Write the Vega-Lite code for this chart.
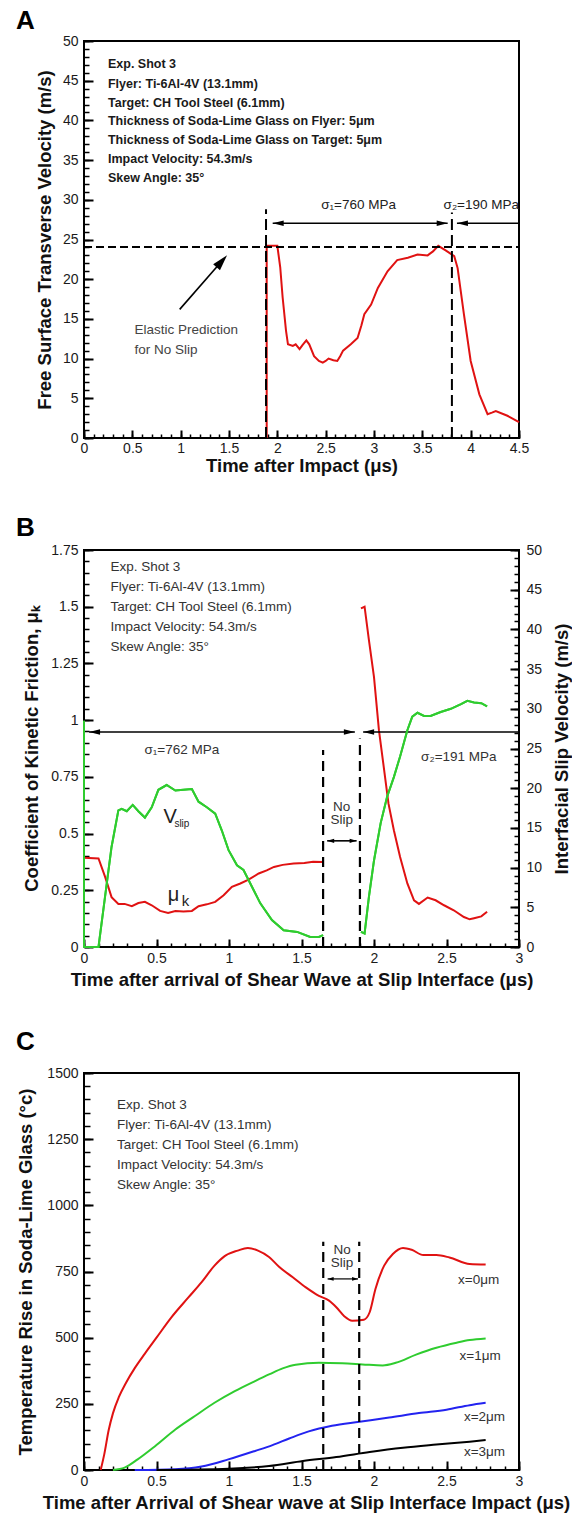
{
  "$schema": "https://vega.github.io/schema/vega-lite/v6.json",
  "padding": {"left": 15, "top": 7, "right": 0, "bottom": 0},
  "spacing": 38,
  "config": {
    "font": "Liberation Sans",
    "view": {"stroke": "#000", "strokeWidth": 2},
    "axis": {"grid": false, "domain": false, "ticks": true, "tickColor": "#000", "tickWidth": 2, "labelFont": "Liberation Sans", "labelFontSize": 14, "labelColor": "#1a1a1a", "labelFlush": false, "labelOverlap": false, "titleFont": "Liberation Sans", "titleFontSize": 18.5, "titleFontWeight": "bold", "titleColor": "#111"},
    "title": {"font": "Liberation Sans", "fontSize": 26, "fontWeight": "bold", "anchor": "start", "frame": "group", "color": "#000"},
    "text": {"font": "Liberation Sans"}
  },
  "datasets": {
    "aCurve": [
      {"x":1.89,"y":0},{"x":1.89,"y":24.2},{"x":2.0,"y":24.2},{"x":2.03,"y":21.5},{"x":2.055,"y":17.7},{"x":2.09,"y":13.5},{"x":2.11,"y":11.8},{"x":2.16,"y":11.6},{"x":2.19,"y":11.8},{"x":2.23,"y":11.2},{"x":2.26,"y":11.7},{"x":2.30,"y":12.3},{"x":2.33,"y":11.8},{"x":2.38,"y":10.3},{"x":2.43,"y":9.7},{"x":2.47,"y":9.5},{"x":2.50,"y":9.7},{"x":2.53,"y":10.0},{"x":2.58,"y":9.8},{"x":2.62,"y":9.7},{"x":2.65,"y":10.3},{"x":2.68,"y":11.0},{"x":2.76,"y":11.8},{"x":2.83,"y":12.6},{"x":2.87,"y":14.2},{"x":2.90,"y":15.6},{"x":2.97,"y":16.8},{"x":3.04,"y":18.9},{"x":3.14,"y":21.0},{"x":3.24,"y":22.4},{"x":3.35,"y":22.7},{"x":3.45,"y":23.1},{"x":3.555,"y":23.0},{"x":3.61,"y":23.5},{"x":3.665,"y":24.2},{"x":3.745,"y":23.6},{"x":3.83,"y":22.9},{"x":3.865,"y":21.4},{"x":3.93,"y":15.6},{"x":4.0,"y":9.7},{"x":4.09,"y":5.5},{"x":4.175,"y":3.0},{"x":4.22,"y":3.2},{"x":4.26,"y":3.4},{"x":4.38,"y":2.8},{"x":4.5,"y":2.0}
    ],
    "aDash": [
      {"x":1.883,"y":0,"x2":1.883,"y2":28.8},{"x":3.806,"y":0,"x2":3.806,"y2":28.4}
    ],
    "aHDash": [{"x":0,"y":24.05,"x2":4.5,"y2":24.05}],
    "aShaft": [
      {"x":1.952,"y":27.04,"x2":3.762,"y2":27.04},{"x":3.858,"y":27.04,"x2":4.5,"y2":27.04},{"x":0.99,"y":16.2,"x2":1.42,"y2":22.2}
    ],
    "aHeadL": [{"x":1.952,"y":27.04},{"x":3.858,"y":27.04}],
    "aHeadR": [{"x":3.762,"y":27.04}],
    "aHeadD": [{"x":1.48,"y":23.03}],
    "aInfo": [
      {"x":0.248,"y":47.06,"t":"Exp. Shot 3"},{"x":0.248,"y":44.62,"t":"Flyer: Ti-6Al-4V (13.1mm)"},{"x":0.248,"y":42.23,"t":"Target: CH Tool Steel (6.1mm)"},{"x":0.248,"y":39.92,"t":"Thickness of Soda-Lime Glass on Flyer: 5μm"},{"x":0.248,"y":37.48,"t":"Thickness of Soda-Lime Glass on Target: 5μm"},{"x":0.248,"y":35.17,"t":"Impact Velocity: 54.3m/s"},{"x":0.248,"y":32.77,"t":"Skew Angle: 35°"}
    ],
    "aSigma": [{"x":2.84,"y":29.4,"t":"σ₁=760 MPa"},{"x":4.11,"y":29.4,"t":"σ₂=190 MPa"}],
    "aNote": [{"x":0.522,"y":13.66,"t":"Elastic Prediction"},{"x":0.522,"y":11.13,"t":"for No Slip"}],
    "bMu": [
      {"x":0,"y":0.393,"seg":1},{"x":0.10,"y":0.39,"seg":1},{"x":0.145,"y":0.31,"seg":1},{"x":0.19,"y":0.22,"seg":1},{"x":0.237,"y":0.19,"seg":1},{"x":0.28,"y":0.19,"seg":1},{"x":0.33,"y":0.18,"seg":1},{"x":0.375,"y":0.194,"seg":1},{"x":0.42,"y":0.199,"seg":1},{"x":0.467,"y":0.184,"seg":1},{"x":0.525,"y":0.159,"seg":1},{"x":0.58,"y":0.15,"seg":1},{"x":0.63,"y":0.159,"seg":1},{"x":0.686,"y":0.156,"seg":1},{"x":0.744,"y":0.159,"seg":1},{"x":0.79,"y":0.18,"seg":1},{"x":0.847,"y":0.188,"seg":1},{"x":0.905,"y":0.199,"seg":1},{"x":0.963,"y":0.228,"seg":1},{"x":1.02,"y":0.265,"seg":1},{"x":1.078,"y":0.28,"seg":1},{"x":1.135,"y":0.297,"seg":1},{"x":1.205,"y":0.324,"seg":1},{"x":1.26,"y":0.338,"seg":1},{"x":1.31,"y":0.353,"seg":1},{"x":1.37,"y":0.362,"seg":1},{"x":1.446,"y":0.368,"seg":1},{"x":1.52,"y":0.37,"seg":1},{"x":1.58,"y":0.376,"seg":1},{"x":1.649,"y":0.375,"seg":1},
      {"x":1.91,"y":1.493,"seg":2},{"x":1.935,"y":1.50,"seg":2},{"x":1.965,"y":1.353,"seg":2},{"x":2.0,"y":1.19,"seg":2},{"x":2.034,"y":0.956,"seg":2},{"x":2.07,"y":0.78,"seg":2},{"x":2.10,"y":0.632,"seg":2},{"x":2.137,"y":0.515,"seg":2},{"x":2.18,"y":0.397,"seg":2},{"x":2.23,"y":0.28,"seg":2},{"x":2.276,"y":0.206,"seg":2},{"x":2.31,"y":0.19,"seg":2},{"x":2.37,"y":0.218,"seg":2},{"x":2.425,"y":0.206,"seg":2},{"x":2.483,"y":0.184,"seg":2},{"x":2.55,"y":0.162,"seg":2},{"x":2.62,"y":0.132,"seg":2},{"x":2.66,"y":0.122,"seg":2},{"x":2.69,"y":0.127,"seg":2},{"x":2.74,"y":0.135,"seg":2},{"x":2.78,"y":0.155,"seg":2}
    ],
    "bV": [
      {"x":0,"y":28.5,"seg":1},{"x":0,"y":0,"seg":1},{"x":0.10,"y":0,"seg":1},{"x":0.145,"y":6.3,"seg":1},{"x":0.19,"y":12.6,"seg":1},{"x":0.237,"y":17.2,"seg":1},{"x":0.26,"y":17.4,"seg":1},{"x":0.295,"y":17.1,"seg":1},{"x":0.336,"y":17.9,"seg":1},{"x":0.375,"y":17.1,"seg":1},{"x":0.42,"y":16.3,"seg":1},{"x":0.467,"y":17.6,"seg":1},{"x":0.513,"y":19.8,"seg":1},{"x":0.57,"y":20.4,"seg":1},{"x":0.63,"y":19.7,"seg":1},{"x":0.686,"y":19.8,"seg":1},{"x":0.744,"y":19.9,"seg":1},{"x":0.79,"y":18.3,"seg":1},{"x":0.847,"y":17.6,"seg":1},{"x":0.905,"y":16.8,"seg":1},{"x":0.95,"y":14.7,"seg":1},{"x":0.997,"y":12.2,"seg":1},{"x":1.055,"y":10.3,"seg":1},{"x":1.10,"y":9.7,"seg":1},{"x":1.147,"y":8.0,"seg":1},{"x":1.216,"y":5.5,"seg":1},{"x":1.296,"y":3.4,"seg":1},{"x":1.377,"y":2.1,"seg":1},{"x":1.47,"y":1.9,"seg":1},{"x":1.56,"y":1.26,"seg":1},{"x":1.62,"y":1.26,"seg":1},{"x":1.649,"y":1.5,"seg":1},
      {"x":1.91,"y":1.9,"seg":2},{"x":1.935,"y":1.7,"seg":2},{"x":1.965,"y":6.3,"seg":2},{"x":2.0,"y":10.9,"seg":2},{"x":2.046,"y":15.6,"seg":2},{"x":2.09,"y":18.9,"seg":2},{"x":2.137,"y":21.4,"seg":2},{"x":2.18,"y":24.0,"seg":2},{"x":2.23,"y":27.3,"seg":2},{"x":2.264,"y":29.0,"seg":2},{"x":2.30,"y":29.5,"seg":2},{"x":2.345,"y":29.1,"seg":2},{"x":2.39,"y":29.1,"seg":2},{"x":2.46,"y":29.6,"seg":2},{"x":2.53,"y":30.0,"seg":2},{"x":2.60,"y":30.6,"seg":2},{"x":2.644,"y":31.0,"seg":2},{"x":2.69,"y":30.8,"seg":2},{"x":2.74,"y":30.7,"seg":2},{"x":2.78,"y":30.3,"seg":2}
    ],
    "bDash": [{"x":1.649,"y":0,"x2":1.649,"y2":0.868},{"x":1.903,"y":0,"x2":1.903,"y2":0.919}],
    "bShaft": [{"x":0.035,"y":0.948,"x2":1.868,"y2":0.948},{"x":1.925,"y":0.948,"x2":3,"y2":0.948},{"x":1.677,"y":0.468,"x2":1.88,"y2":0.468}],
    "bHeadL": [{"x":0.035,"y":0.948},{"x":1.925,"y":0.948}],
    "bHeadR": [{"x":1.868,"y":0.948}],
    "bHeadLs": [{"x":1.677,"y":0.468}],
    "bHeadRs": [{"x":1.88,"y":0.468}],
    "bInfo": [
      {"x":0.183,"y":1.674,"t":"Exp. Shot 3"},{"x":0.183,"y":1.585,"t":"Flyer: Ti-6Al-4V (13.1mm)"},{"x":0.183,"y":1.497,"t":"Target: CH Tool Steel (6.1mm)"},{"x":0.183,"y":1.409,"t":"Impact Velocity: 54.3m/s"},{"x":0.183,"y":1.321,"t":"Skew Angle: 35°"}
    ],
    "bSigma": [{"x":0.675,"y":0.868,"t":"σ₁=762 MPa"},{"x":2.585,"y":0.838,"t":"σ₂=191 MPa"},{"x":1.777,"y":0.618,"t":"No"},{"x":1.777,"y":0.559,"t":"Slip"}],
    "bBig": [{"x":0.594,"y":0.573,"t":"V"},{"x":0.617,"y":0.228,"t":"μ"}],
    "bSlip": [{"x":0.675,"y":0.544,"t":"slip"}],
    "bK": [{"x":0.70,"y":0.203,"t":"k"}],
    "cCurves": [
      {"s":"x=0μm","x":0.115,"y":0},{"s":"x=0μm","x":0.14,"y":60},{"s":"x=0μm","x":0.17,"y":150},{"s":"x=0μm","x":0.20,"y":215},{"s":"x=0μm","x":0.24,"y":275},{"s":"x=0μm","x":0.29,"y":330},{"s":"x=0μm","x":0.35,"y":385},{"s":"x=0μm","x":0.42,"y":440},{"s":"x=0μm","x":0.50,"y":500},{"s":"x=0μm","x":0.60,"y":575},{"s":"x=0μm","x":0.72,"y":652},{"s":"x=0μm","x":0.81,"y":709},{"s":"x=0μm","x":0.90,"y":772},{"s":"x=0μm","x":0.97,"y":808},{"s":"x=0μm","x":1.06,"y":829},{"s":"x=0μm","x":1.13,"y":839},{"s":"x=0μm","x":1.20,"y":829},{"s":"x=0μm","x":1.276,"y":805},{"s":"x=0μm","x":1.345,"y":768},{"s":"x=0μm","x":1.44,"y":728},{"s":"x=0μm","x":1.53,"y":690},{"s":"x=0μm","x":1.62,"y":658},{"s":"x=0μm","x":1.69,"y":640},{"s":"x=0μm","x":1.74,"y":615},{"s":"x=0μm","x":1.795,"y":581},{"s":"x=0μm","x":1.85,"y":564},{"s":"x=0μm","x":1.93,"y":568},{"s":"x=0μm","x":1.97,"y":596},{"s":"x=0μm","x":2.01,"y":684},{"s":"x=0μm","x":2.07,"y":772},{"s":"x=0μm","x":2.13,"y":816},{"s":"x=0μm","x":2.20,"y":839},{"s":"x=0μm","x":2.26,"y":832},{"s":"x=0μm","x":2.34,"y":812},{"s":"x=0μm","x":2.43,"y":812},{"s":"x=0μm","x":2.52,"y":803},{"s":"x=0μm","x":2.66,"y":778},{"s":"x=0μm","x":2.77,"y":776},
      {"s":"x=1μm","x":0.20,"y":0},{"s":"x=1μm","x":0.28,"y":9},{"s":"x=1μm","x":0.37,"y":40},{"s":"x=1μm","x":0.49,"y":90},{"s":"x=1μm","x":0.63,"y":153},{"s":"x=1μm","x":0.765,"y":204},{"s":"x=1μm","x":0.90,"y":254},{"s":"x=1μm","x":1.04,"y":298},{"s":"x=1μm","x":1.18,"y":336},{"s":"x=1μm","x":1.28,"y":362},{"s":"x=1μm","x":1.37,"y":384},{"s":"x=1μm","x":1.46,"y":398},{"s":"x=1μm","x":1.62,"y":405},{"s":"x=1μm","x":1.78,"y":403},{"s":"x=1μm","x":1.92,"y":399},{"s":"x=1μm","x":2.06,"y":395},{"s":"x=1μm","x":2.15,"y":405},{"s":"x=1μm","x":2.29,"y":436},{"s":"x=1μm","x":2.43,"y":462},{"s":"x=1μm","x":2.57,"y":481},{"s":"x=1μm","x":2.66,"y":491},{"s":"x=1μm","x":2.77,"y":497},
      {"s":"x=2μm","x":0.35,"y":0},{"s":"x=2μm","x":0.63,"y":3},{"s":"x=2μm","x":0.81,"y":13},{"s":"x=2μm","x":0.995,"y":40},{"s":"x=2μm","x":1.18,"y":72},{"s":"x=2μm","x":1.30,"y":94},{"s":"x=2μm","x":1.415,"y":119},{"s":"x=2μm","x":1.55,"y":146},{"s":"x=2μm","x":1.71,"y":167},{"s":"x=2μm","x":1.90,"y":182},{"s":"x=2μm","x":2.105,"y":198},{"s":"x=2μm","x":2.31,"y":215},{"s":"x=2μm","x":2.50,"y":228},{"s":"x=2μm","x":2.66,"y":245},{"s":"x=2μm","x":2.77,"y":254},
      {"s":"x=3μm","x":0.5,"y":0},{"s":"x=3μm","x":1.0,"y":5},{"s":"x=3μm","x":1.276,"y":15},{"s":"x=3μm","x":1.51,"y":34},{"s":"x=3μm","x":1.74,"y":49},{"s":"x=3μm","x":1.97,"y":68},{"s":"x=3μm","x":2.20,"y":84},{"s":"x=3μm","x":2.43,"y":96},{"s":"x=3μm","x":2.66,"y":107},{"s":"x=3μm","x":2.77,"y":113}
    ],
    "cDash": [{"x":1.65,"y":0,"x2":1.65,"y2":862},{"x":1.898,"y":0,"x2":1.898,"y2":862}],
    "cShaft": [{"x":1.68,"y":722,"x2":1.89,"y2":722}],
    "cHeadL": [{"x":1.68,"y":722}],
    "cHeadR": [{"x":1.89,"y":722}],
    "cInfo": [
      {"x":0.228,"y":1379,"t":"Exp. Shot 3"},{"x":0.228,"y":1304,"t":"Flyer: Ti-6Al-4V (13.1mm)"},{"x":0.228,"y":1228,"t":"Target: CH Tool Steel (6.1mm)"},{"x":0.228,"y":1152,"t":"Impact Velocity: 54.3m/s"},{"x":0.228,"y":1077,"t":"Skew Angle: 35°"}
    ],
    "cNo": [{"x":1.78,"y":832,"t":"No"},{"x":1.78,"y":781,"t":"Slip"}],
    "cLab": [{"x":2.58,"y":719,"t":"x=0μm"},{"x":2.59,"y":432,"t":"x=1μm"},{"x":2.62,"y":199,"t":"x=2μm"},{"x":2.62,"y":67,"t":"x=3μm"}]
  },
  "vconcat": [
    {
      "width": 435, "height": 397,
      "title": {"text": "A", "dx": -68, "offset": 0},
      "resolve": {"axis": {"x": "independent", "y": "independent"}},
      "layer": [
        {
          "data": {"name": "aCurve"},
          "mark": {"type": "line", "color": "#e01212", "strokeWidth": 2},
          "encoding": {
            "x": {"field": "x", "type": "quantitative", "scale": {"domain": [0, 4.5], "nice": false},
              "axis": {"orient": "bottom", "title": "Time after Impact (μs)", "values": [0,0.5,1,1.5,2,2.5,3,3.5,4,4.5], "labelExpr": "toString(datum.value)", "offset": -8, "tickSize": 8, "labelPadding": 3, "labelOverlap": false, "titleX": 217.5, "titleY": 35.5, "titleBaseline": "middle"}},
            "y": {"field": "y", "type": "quantitative", "scale": {"domain": [0, 50], "nice": false},
              "axis": {"orient": "left", "title": "Free Surface Transverse Velocity (m/s)", "values": [0,5,10,15,20,25,30,35,40,45,50], "labelExpr": "toString(datum.value)", "offset": -9, "tickSize": 9, "labelPadding": 6, "labelOverlap": false, "titleX": -48.5, "titleY": 198.5, "titleBaseline": "middle", "titleAlign": "center", "titleAngle": -90}}
          }
        },
        {
          "data": {"name": "aDash"},
          "mark": {"type": "rule", "color": "#000", "strokeWidth": 2, "strokeDash": [11, 5]},
          "encoding": {
            "x": {"field": "x", "type": "quantitative", "axis": {"orient": "bottom", "title": null, "labels": false, "offset": -4, "tickSize": 4, "tickWidth": 1.5, "values": [0,0.1,0.2,0.3,0.4,0.5,0.6,0.7,0.8,0.9,1,1.1,1.2,1.3,1.4,1.5,1.6,1.7,1.8,1.9,2,2.1,2.2,2.3,2.4,2.5,2.6,2.7,2.8,2.9,3,3.1,3.2,3.3,3.4,3.5,3.6,3.7,3.8,3.9,4,4.1,4.2,4.3,4.4,4.5]}},
            "y": {"field": "y", "type": "quantitative", "axis": {"orient": "left", "title": null, "labels": false, "offset": -5, "tickSize": 5, "tickWidth": 1.5, "values": [0,1,2,3,4,5,6,7,8,9,10,11,12,13,14,15,16,17,18,19,20,21,22,23,24,25,26,27,28,29,30,31,32,33,34,35,36,37,38,39,40,41,42,43,44,45,46,47,48,49,50]}},
            "x2": {"field": "x2"}, "y2": {"field": "y2"}}
        },
        {
          "data": {"name": "aHDash"},
          "mark": {"type": "rule", "color": "#000", "strokeWidth": 2, "strokeDash": [8, 4]},
          "encoding": {"x": {"field": "x", "type": "quantitative", "axis": null}, "y": {"field": "y", "type": "quantitative", "axis": null}, "x2": {"field": "x2"}, "y2": {"field": "y2"}}
        },
        {
          "data": {"name": "aShaft"},
          "mark": {"type": "rule", "color": "#000", "strokeWidth": 1.6},
          "encoding": {"x": {"field": "x", "type": "quantitative", "axis": null}, "y": {"field": "y", "type": "quantitative", "axis": null}, "x2": {"field": "x2"}, "y2": {"field": "y2"}}
        },
        {
          "data": {"name": "aHeadL"},
          "mark": {"type": "point", "shape": "M0,0L2,-0.5L2,0.5Z", "size": 121, "filled": true, "color": "#000", "opacity": 1, "strokeWidth": 0},
          "encoding": {"x": {"field": "x", "type": "quantitative", "axis": null}, "y": {"field": "y", "type": "quantitative", "axis": null}}
        },
        {
          "data": {"name": "aHeadR"},
          "mark": {"type": "point", "shape": "M0,0L-2,-0.5L-2,0.5Z", "size": 121, "filled": true, "color": "#000", "opacity": 1, "strokeWidth": 0},
          "encoding": {"x": {"field": "x", "type": "quantitative", "axis": null}, "y": {"field": "y", "type": "quantitative", "axis": null}}
        },
        {
          "data": {"name": "aHeadD"},
          "mark": {"type": "point", "shape": "M0,0L0.45,1.6L-0.45,1.6Z", "size": 400, "angle": 41, "filled": true, "color": "#000", "opacity": 1, "strokeWidth": 0},
          "encoding": {"x": {"field": "x", "type": "quantitative", "axis": null}, "y": {"field": "y", "type": "quantitative", "axis": null}}
        },
        {
          "data": {"name": "aInfo"},
          "mark": {"type": "text", "align": "left", "baseline": "middle", "fontSize": 12.5, "fontWeight": "bold", "color": "#1a1a1a"},
          "encoding": {"x": {"field": "x", "type": "quantitative", "axis": null}, "y": {"field": "y", "type": "quantitative", "axis": null}, "text": {"field": "t", "type": "nominal"}}
        },
        {
          "data": {"name": "aSigma"},
          "mark": {"type": "text", "align": "center", "baseline": "middle", "fontSize": 13.5, "color": "#222"},
          "encoding": {"x": {"field": "x", "type": "quantitative", "axis": null}, "y": {"field": "y", "type": "quantitative", "axis": null}, "text": {"field": "t", "type": "nominal"}}
        },
        {
          "data": {"name": "aNote"},
          "mark": {"type": "text", "align": "left", "baseline": "middle", "fontSize": 13.5, "color": "#444"},
          "encoding": {"x": {"field": "x", "type": "quantitative", "axis": null}, "y": {"field": "y", "type": "quantitative", "axis": null}, "text": {"field": "t", "type": "nominal"}}
        }
      ]
    },
    {
      "width": 435, "height": 397,
      "title": {"text": "B", "dx": -68, "offset": 2},
      "resolve": {"scale": {"y": "independent"}, "axis": {"x": "independent", "y": "independent"}},
      "layer": [
        {
          "resolve": {"axis": {"x": "independent", "y": "independent"}},
          "layer": [
            {
              "data": {"name": "bMu"},
              "mark": {"type": "line", "color": "#e01212", "strokeWidth": 2},
              "encoding": {
                "x": {"field": "x", "type": "quantitative", "scale": {"domain": [0, 3], "nice": false},
                  "axis": {"orient": "bottom", "title": "Time after arrival of Shear Wave at Slip Interface (μs)", "values": [0,0.5,1,1.5,2,2.5,3], "labelExpr": "toString(datum.value)", "offset": -8, "tickSize": 8, "labelPadding": 4, "labelOverlap": false, "titleX": 217.5, "titleY": 40.5, "titleBaseline": "middle"}},
                "y": {"field": "y", "type": "quantitative", "scale": {"domain": [0, 1.75], "nice": false},
                  "axis": {"orient": "left", "title": "Coefficient of Kinetic Friction, μₖ", "values": [0,0.25,0.5,0.75,1,1.25,1.5,1.75], "labelExpr": "toString(datum.value)", "offset": -9, "tickSize": 9, "labelPadding": 6, "labelOverlap": false, "titleX": -62, "titleY": 198.5, "titleBaseline": "middle", "titleAlign": "center", "titleAngle": -90}},
                "detail": {"field": "seg", "type": "nominal"}
              }
            },
            {
              "data": {"name": "bDash"},
              "mark": {"type": "rule", "color": "#000", "strokeWidth": 2.2, "strokeDash": [10, 6]},
              "encoding": {
                "x": {"field": "x", "type": "quantitative", "axis": {"orient": "bottom", "title": null, "labels": false, "offset": -4, "tickSize": 4, "tickWidth": 1.5, "values": [0,0.1,0.2,0.3,0.4,0.5,0.6,0.7,0.8,0.9,1,1.1,1.2,1.3,1.4,1.5,1.6,1.7,1.8,1.9,2,2.1,2.2,2.3,2.4,2.5,2.6,2.7,2.8,2.9,3]}},
                "y": {"field": "y", "type": "quantitative", "axis": {"orient": "left", "title": null, "labels": false, "offset": -5, "tickSize": 5, "tickWidth": 1.5, "values": [0,0.05,0.1,0.15,0.2,0.25,0.3,0.35,0.4,0.45,0.5,0.55,0.6,0.65,0.7,0.75,0.8,0.85,0.9,0.95,1,1.05,1.1,1.15,1.2,1.25,1.3,1.35,1.4,1.45,1.5,1.55,1.6,1.65,1.7,1.75]}},
                "x2": {"field": "x2"}, "y2": {"field": "y2"}}
            },
            {
              "data": {"name": "bShaft"},
              "mark": {"type": "rule", "color": "#000", "strokeWidth": 1.6},
              "encoding": {"x": {"field": "x", "type": "quantitative", "axis": null}, "y": {"field": "y", "type": "quantitative", "axis": null}, "x2": {"field": "x2"}, "y2": {"field": "y2"}}
            },
            {
              "data": {"name": "bHeadL"},
              "mark": {"type": "point", "shape": "M0,0L2,-0.5L2,0.5Z", "size": 121, "filled": true, "color": "#000", "opacity": 1, "strokeWidth": 0},
              "encoding": {"x": {"field": "x", "type": "quantitative", "axis": null}, "y": {"field": "y", "type": "quantitative", "axis": null}}
            },
            {
              "data": {"name": "bHeadR"},
              "mark": {"type": "point", "shape": "M0,0L-2,-0.5L-2,0.5Z", "size": 121, "filled": true, "color": "#000", "opacity": 1, "strokeWidth": 0},
              "encoding": {"x": {"field": "x", "type": "quantitative", "axis": null}, "y": {"field": "y", "type": "quantitative", "axis": null}}
            },
            {
              "data": {"name": "bHeadLs"},
              "mark": {"type": "point", "shape": "M0,0L2,-0.6L2,0.6Z", "size": 49, "filled": true, "color": "#000", "opacity": 1, "strokeWidth": 0},
              "encoding": {"x": {"field": "x", "type": "quantitative", "axis": null}, "y": {"field": "y", "type": "quantitative", "axis": null}}
            },
            {
              "data": {"name": "bHeadRs"},
              "mark": {"type": "point", "shape": "M0,0L-2,-0.6L-2,0.6Z", "size": 49, "filled": true, "color": "#000", "opacity": 1, "strokeWidth": 0},
              "encoding": {"x": {"field": "x", "type": "quantitative", "axis": null}, "y": {"field": "y", "type": "quantitative", "axis": null}}
            },
            {
              "data": {"name": "bInfo"},
              "mark": {"type": "text", "align": "left", "baseline": "middle", "fontSize": 13.5, "color": "#333"},
              "encoding": {"x": {"field": "x", "type": "quantitative", "axis": null}, "y": {"field": "y", "type": "quantitative", "axis": null}, "text": {"field": "t", "type": "nominal"}}
            },
            {
              "data": {"name": "bSigma"},
              "mark": {"type": "text", "align": "center", "baseline": "middle", "fontSize": 13.5, "color": "#333"},
              "encoding": {"x": {"field": "x", "type": "quantitative", "axis": null}, "y": {"field": "y", "type": "quantitative", "axis": null}, "text": {"field": "t", "type": "nominal"}}
            },
            {
              "data": {"name": "bBig"},
              "mark": {"type": "text", "align": "center", "baseline": "middle", "fontSize": 20, "color": "#222"},
              "encoding": {"x": {"field": "x", "type": "quantitative", "axis": null}, "y": {"field": "y", "type": "quantitative", "axis": null}, "text": {"field": "t", "type": "nominal"}}
            },
            {
              "data": {"name": "bSlip"},
              "mark": {"type": "text", "align": "center", "baseline": "middle", "fontSize": 10, "color": "#222"},
              "encoding": {"x": {"field": "x", "type": "quantitative", "axis": null}, "y": {"field": "y", "type": "quantitative", "axis": null}, "text": {"field": "t", "type": "nominal"}}
            },
            {
              "data": {"name": "bK"},
              "mark": {"type": "text", "align": "center", "baseline": "middle", "fontSize": 15, "color": "#222"},
              "encoding": {"x": {"field": "x", "type": "quantitative", "axis": null}, "y": {"field": "y", "type": "quantitative", "axis": null}, "text": {"field": "t", "type": "nominal"}}
            }
          ]
        },
        {
          "resolve": {"axis": {"x": "independent", "y": "independent"}},
          "layer": [
            {
              "data": {"name": "bV"},
              "mark": {"type": "line", "color": "#2fcc2f", "strokeWidth": 2},
              "encoding": {
                "x": {"field": "x", "type": "quantitative", "axis": null},
                "y": {"field": "y", "type": "quantitative", "scale": {"domain": [0, 50], "nice": false},
                  "axis": {"orient": "right", "title": "Interfacial Slip Velocity (m/s)", "values": [0,5,10,15,20,25,30,35,40,45,50], "labelExpr": "toString(datum.value)", "offset": -9, "tickSize": 9, "labelPadding": 7, "labelOverlap": false, "titleX": 51, "titleY": 198.5, "titleBaseline": "middle", "titleAlign": "center", "titleAngle": -90}},
                "detail": {"field": "seg", "type": "nominal"}
              }
            },
            {
              "data": {"name": "bV"},
              "mark": {"type": "line", "color": "#2fcc2f", "strokeWidth": 2},
              "encoding": {
                "x": {"field": "x", "type": "quantitative", "axis": null},
                "y": {"field": "y", "type": "quantitative",
                  "axis": {"orient": "right", "title": null, "labels": false, "offset": -5, "tickSize": 5, "tickWidth": 1.5, "values": [0,1,2,3,4,5,6,7,8,9,10,11,12,13,14,15,16,17,18,19,20,21,22,23,24,25,26,27,28,29,30,31,32,33,34,35,36,37,38,39,40,41,42,43,44,45,46,47,48,49,50]}},
                "detail": {"field": "seg", "type": "nominal"}
              }
            }
          ]
        }
      ]
    },
    {
      "width": 435, "height": 397,
      "title": {"text": "C", "dx": -68, "offset": 11},
      "resolve": {"axis": {"x": "independent", "y": "independent"}},
      "layer": [
        {
          "data": {"name": "cCurves"},
          "mark": {"type": "line", "strokeWidth": 2, "interpolate": "monotone"},
          "encoding": {
            "x": {"field": "x", "type": "quantitative", "scale": {"domain": [0, 3], "nice": false},
              "axis": {"orient": "bottom", "title": "Time after Arrival of Shear wave at Slip Interface Impact (μs)", "values": [0,0.5,1,1.5,2,2.5,3], "labelExpr": "toString(datum.value)", "offset": -9, "tickSize": 9, "labelPadding": 4, "labelOverlap": false, "titleX": 222, "titleY": 41.3, "titleBaseline": "middle"}},
            "y": {"field": "y", "type": "quantitative", "scale": {"domain": [0, 1500], "nice": false},
              "axis": {"orient": "left", "title": "Temperature Rise in Soda-Lime Glass (°c)", "values": [0,250,500,750,1000,1250,1500], "labelExpr": "toString(datum.value)", "offset": -9, "tickSize": 9, "labelPadding": 6, "labelOverlap": false, "titleX": -67.5, "titleY": 198.5, "titleBaseline": "middle", "titleAlign": "center", "titleAngle": -90}},
            "color": {"field": "s", "type": "nominal", "legend": null,
              "scale": {"domain": ["x=0μm", "x=1μm", "x=2μm", "x=3μm"], "range": ["#e01212", "#2fcc2f", "#2323f0", "#000000"]}}
          }
        },
        {
          "data": {"name": "cDash"},
          "mark": {"type": "rule", "color": "#000", "strokeWidth": 2.2, "strokeDash": [10, 6]},
          "encoding": {
            "x": {"field": "x", "type": "quantitative", "axis": {"orient": "bottom", "title": null, "labels": false, "offset": -4, "tickSize": 4, "tickWidth": 1.5, "values": [0,0.1,0.2,0.3,0.4,0.5,0.6,0.7,0.8,0.9,1,1.1,1.2,1.3,1.4,1.5,1.6,1.7,1.8,1.9,2,2.1,2.2,2.3,2.4,2.5,2.6,2.7,2.8,2.9,3]}},
            "y": {"field": "y", "type": "quantitative", "axis": {"orient": "left", "title": null, "labels": false, "offset": -6, "tickSize": 6, "tickWidth": 1.5, "values": [0,50,100,150,200,250,300,350,400,450,500,550,600,650,700,750,800,850,900,950,1000,1050,1100,1150,1200,1250,1300,1350,1400,1450,1500]}},
            "x2": {"field": "x2"}, "y2": {"field": "y2"}}
        },
        {
          "data": {"name": "cShaft"},
          "mark": {"type": "rule", "color": "#000", "strokeWidth": 1.2},
          "encoding": {"x": {"field": "x", "type": "quantitative", "axis": null}, "y": {"field": "y", "type": "quantitative", "axis": null}, "x2": {"field": "x2"}, "y2": {"field": "y2"}}
        },
        {
          "data": {"name": "cHeadL"},
          "mark": {"type": "point", "shape": "M0,0L2,-0.6L2,0.6Z", "size": 36, "filled": true, "color": "#000", "opacity": 1, "strokeWidth": 0},
          "encoding": {"x": {"field": "x", "type": "quantitative", "axis": null}, "y": {"field": "y", "type": "quantitative", "axis": null}}
        },
        {
          "data": {"name": "cHeadR"},
          "mark": {"type": "point", "shape": "M0,0L-2,-0.6L-2,0.6Z", "size": 36, "filled": true, "color": "#000", "opacity": 1, "strokeWidth": 0},
          "encoding": {"x": {"field": "x", "type": "quantitative", "axis": null}, "y": {"field": "y", "type": "quantitative", "axis": null}}
        },
        {
          "data": {"name": "cInfo"},
          "mark": {"type": "text", "align": "left", "baseline": "middle", "fontSize": 13.5, "color": "#333"},
          "encoding": {"x": {"field": "x", "type": "quantitative", "axis": null}, "y": {"field": "y", "type": "quantitative", "axis": null}, "text": {"field": "t", "type": "nominal"}}
        },
        {
          "data": {"name": "cNo"},
          "mark": {"type": "text", "align": "center", "baseline": "middle", "fontSize": 13.5, "color": "#333"},
          "encoding": {"x": {"field": "x", "type": "quantitative", "axis": null}, "y": {"field": "y", "type": "quantitative", "axis": null}, "text": {"field": "t", "type": "nominal"}}
        },
        {
          "data": {"name": "cLab"},
          "mark": {"type": "text", "align": "left", "baseline": "middle", "fontSize": 13.5, "color": "#333"},
          "encoding": {"x": {"field": "x", "type": "quantitative", "axis": null}, "y": {"field": "y", "type": "quantitative", "axis": null}, "text": {"field": "t", "type": "nominal"}}
        }
      ]
    }
  ]
}
